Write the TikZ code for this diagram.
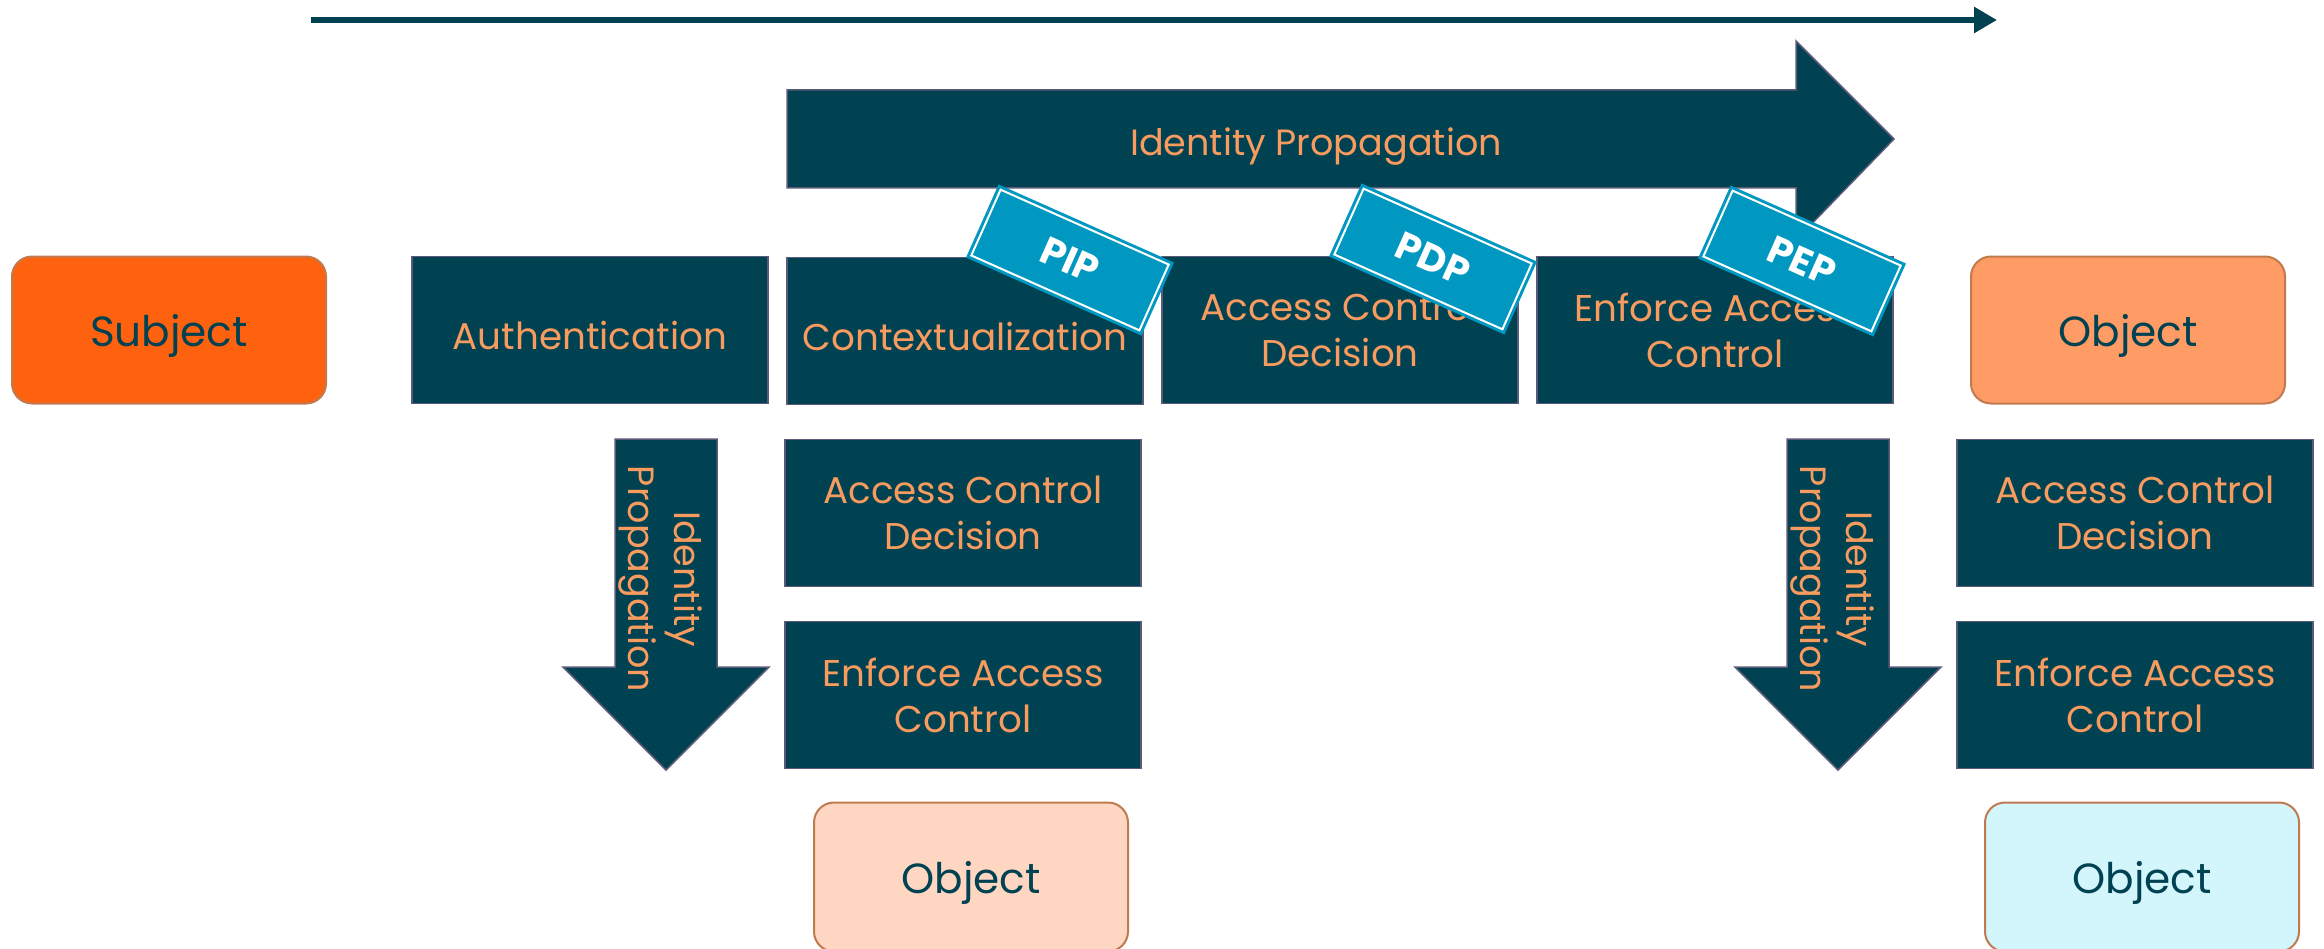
\documentclass[tikz,border=0pt]{standalone}
\usepackage{fontspec}
\setmainfont{Poppins}
\usetikzlibrary{arrows.meta}

\definecolor{petrol}{RGB}{0,65,82}
\definecolor{boxline}{RGB}{90,90,120}
\definecolor{peach}{RGB}{248,155,95}
\definecolor{subjorange}{RGB}{255,98,15}
\definecolor{objorange}{RGB}{255,155,100}
\definecolor{objpeach}{RGB}{255,214,194}
\definecolor{objblue}{RGB}{211,245,252}
\definecolor{objline}{RGB}{192,122,80}
\definecolor{tagblue}{RGB}{0,151,192}

\tikzset{
	stepbox/.style={draw=boxline, line width=0.15mm, fill=petrol, text=peach,
		minimum width=35.6mm, minimum height=14.7mm, inner sep=0pt, align=center,
		font=\fontsize{10.6}{13.1}\selectfont,
		execute at begin node={\rule{0pt}{1.05em}}},
	entity/.style={draw=objline, line width=0.2mm, rounded corners=2mm, text=petrol,
		minimum width=31.4mm, minimum height=14.7mm, inner sep=0pt, text depth=0pt,
		font=\fontsize{12}{14}\selectfont},
	flowarrow/.style={draw=boxline, line width=0.15mm, fill=petrol},
	flowlabel/.style={text=peach, align=center, inner sep=0pt, font=\fontsize{10.4}{13.1}\selectfont},
	pointtag/.style={fill=tagblue, draw=white, line width=0.2mm,
		preaction={draw=tagblue, line width=0.8mm},
		minimum width=18.4mm, minimum height=7.2mm, inner sep=0pt, rotate=-24,
		text=white, font=\bfseries\fontsize{11}{14}\selectfont}
}

\begin{document}
\begin{tikzpicture}[x=0.1mm, y=-0.1mm]
		\useasboundingbox (0,0) rectangle (2324,949);
		\clip (0,0) rectangle (2324,949);
		
		% time line
		\coordinate (T1) at (311,20);
		\coordinate (T2) at (1997,20);
		\draw [petrol, line width=0.65mm, -{Triangle[length=2.3mm, width=2.5mm]}] (T1) -- (T2);
		
		% propagation along the chain
		\draw [flowarrow] (787,90) -- (1796,90) -- (1796,41) -- (1894,139)
		-- (1796,240) -- (1796,188) -- (787,188) -- cycle;
		\node [flowlabel] (propT) at (1316,147) {Identity Propagation};
		
		% propagation down to the object
		\foreach \x/\n in {666/L, 1838/R} {
			\draw [flowarrow] (\x-51,439) -- (\x+51,439) -- (\x+51,667) -- (\x+103,667)
			-- (\x,770) -- (\x-103,667) -- (\x-51,667) -- cycle;
			\node [flowlabel, rotate=-90] (prop\n) at (\x-6,579) {Identity\\Propagation};
		}
		
		\node [entity, fill=subjorange] (subject) at (169,330) {Subject};
		\node [stepbox] (authn) at (590,330) {Authentication};
		\node [stepbox] (context) at (965,331) {Contextualization};
		\node [stepbox] (decide) at (1340,330) {Access Control\\Decision};
		\node [stepbox] (enforce) at (1715,330) {Enforce Access\\Control};
		\node [entity, fill=objorange] (object) at (2128,330) {Object};
		
		\node [stepbox] (decideL) at (963,513) {Access Control\\Decision};
		\node [stepbox] (enforceL) at (963,695) {Enforce Access\\Control};
		\node [entity, fill=objpeach, minimum height=14.9mm] (objectL) at (971,877) {Object};
		
		\node [stepbox] (decideR) at (2135,513) {Access Control\\Decision};
		\node [stepbox] (enforceR) at (2135,695) {Enforce Access\\Control};
		\node [entity, fill=objblue, minimum height=14.9mm] (objectR) at (2142,877) {Object};
		
		% policy points
		\node [pointtag] (pip) at (1070,260) {PIP};
		\node [pointtag] (pdp) at (1433,259) {PDP};
		\node [pointtag] (pep) at (1802,261) {PEP};
	\end{tikzpicture}
\end{document}
